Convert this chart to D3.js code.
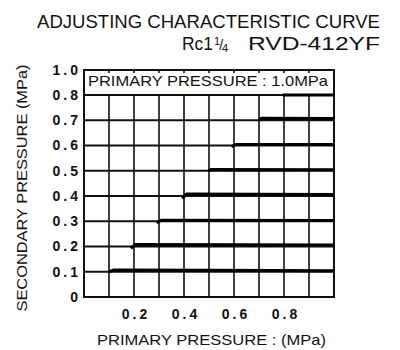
<!DOCTYPE html>
<html><head><meta charset="utf-8">
<script src="https://cdn.jsdelivr.net/npm/d3@7"></script>
<style>body{margin:0;background:#fff}svg{display:block}</style>
</head><body>
<script>
// ---- data ----
const titleLine1 = "ADJUSTING CHARACTERISTIC CURVE";
const sizeText = "Rc1";
const modelText = "RVD-412YF";
const legendText = "PRIMARY PRESSURE : 1.0MPa";
const xTitle = "PRIMARY PRESSURE : (MPa)";
const yTitle = "SECONDARY PRESSURE (MPa)";
const xTickValues = [0.2, 0.4, 0.6, 0.8];
const yTickValues = [0, 0.1, 0.2, 0.3, 0.4, 0.5, 0.6, 0.7, 0.8, 1.0];
const gridX = [0.1, 0.2, 0.3, 0.4, 0.5, 0.6, 0.7, 0.8, 0.9];
const gridY = [0.1, 0.2, 0.3, 0.4, 0.5, 0.6, 0.7, 0.8];
// curves: [primary, secondary]
const curve01 = [[0.10, 0.100], [0.12, 0.107], [0.50, 0.106], [1.0, 0.104]];
const curve02 = [[0.187, 0.193], [0.207, 0.208], [1.0, 0.206]];
const curve03 = [[0.29, 0.295], [0.31, 0.304], [1.0, 0.303]];
const curve04 = [[0.393, 0.39], [0.41, 0.408], [1.0, 0.406]];
const curve05 = [[0.497, 0.50], [0.51, 0.505], [1.0, 0.504]];
const curve06 = [[0.59, 0.595], [0.605, 0.604], [1.0, 0.604]];
const curve07 = [[0.70, 0.70], [0.71, 0.708], [1.0, 0.707]];
const curve08 = [[0.795, 0.80], [1.0, 0.80]];
const curves = [curve01, curve02, curve03, curve04, curve05, curve06, curve07, curve08];

// ---- layout ----
const W = 400, H = 350;
const L = 84, R = 334, T = 70, B = 297;
const svg = d3.select("body").append("svg").attr("width", W).attr("height", H);
const x = d3.scaleLinear().domain([0, 1.0]).range([L, R]);
const y = d3.scaleLinear().domain([0, 0.8, 1.0]).range([B, 95, T]);
const ink = "#111";
const ff = "Liberation Sans, Arial, sans-serif";

// grid
svg.append("g").selectAll("line").data(gridX).join("line")
  .attr("x1", d => x(d)).attr("x2", d => x(d)).attr("y1", B).attr("y2", T)
  .attr("stroke", ink).attr("stroke-width", 1.6);
svg.append("g").selectAll("line").data(gridY).join("line")
  .attr("x1", L).attr("x2", R).attr("y1", d => y(d)).attr("y2", d => y(d))
  .attr("stroke", ink).attr("stroke-width", 2);

// legend box (white)
svg.append("rect").attr("x", L + 1).attr("y", T + 3).attr("width", R - L - 2).attr("height", y(0.8) - T - 4)
  .attr("fill", "#fff");
svg.append("text").attr("x", 88).attr("y", 86).text(legendText)
  .attr("font-family", ff).attr("font-size", 14.5)
  .attr("textLength", 240).attr("lengthAdjust", "spacingAndGlyphs").attr("fill", ink);

// curves
const line = d3.line().x(d => x(d[0])).y(d => y(d[1]));
svg.append("g").selectAll("path").data(curves).join("path")
  .attr("d", line).attr("fill", "none").attr("stroke", "#000").attr("stroke-width", 3)
  .attr("stroke-linejoin", "round");

// frame
svg.append("rect").attr("x", L).attr("y", T).attr("width", R - L).attr("height", B - T)
  .attr("fill", "none").attr("stroke", ink).attr("stroke-width", 2);

// axes
const yAxis = d3.axisLeft(y).tickValues(yTickValues).tickSize(0).tickPadding(3)
  .tickFormat(d => d === 0 ? "0" : d3.format(".1f")(d));
const gy = svg.append("g").attr("transform", `translate(${L},0)`).call(yAxis);
gy.select(".domain").remove();
gy.selectAll("text").attr("font-family", ff)
  .attr("font-weight", "bold").attr("font-size", 14).attr("fill", ink)
  .attr("letter-spacing", 3);

const xAxis = d3.axisBottom(x).tickValues(xTickValues).tickSize(0).tickPadding(12)
  .tickFormat(d3.format(".1f"));
const gx = svg.append("g").attr("transform", `translate(0,${B})`).call(xAxis);
gx.select(".domain").remove();
gx.selectAll("text").attr("font-family", ff)
  .attr("font-weight", "bold").attr("font-size", 14).attr("fill", ink)
  .attr("letter-spacing", 3).attr("dx", 1.5);

// titles
svg.append("text").attr("x", 37).attr("y", 28).text(titleLine1)
  .attr("font-family", ff).attr("font-size", 18).attr("fill", ink)
  .attr("textLength", 343).attr("lengthAdjust", "spacingAndGlyphs");
svg.append("text").attr("x", 182).attr("y", 50).text(sizeText)
  .attr("font-family", ff).attr("font-size", 18).attr("fill", ink)
  .attr("textLength", 31).attr("lengthAdjust", "spacingAndGlyphs");
// fraction 1/4 drawn as one text with shifted tspans
const frac = svg.append("text").attr("x", 214).attr("y", 45)
  .attr("font-family", ff).attr("font-size", 11).attr("fill", ink);
frac.append("tspan").text("1");
frac.append("tspan").text("/").attr("font-size", 14).attr("dx", -1).attr("dy", 5);
frac.append("tspan").text("4").attr("dx", -1).attr("dy", 2);
svg.append("text").attr("x", 248).attr("y", 50).text(modelText)
  .attr("font-family", ff).attr("font-size", 18).attr("fill", ink)
  .attr("textLength", 132).attr("lengthAdjust", "spacingAndGlyphs");

svg.append("text").attr("x", 97).attr("y", 345).text(xTitle)
  .attr("font-family", ff).attr("font-size", 15).attr("fill", ink)
  .attr("textLength", 229).attr("lengthAdjust", "spacingAndGlyphs");
svg.append("text").attr("transform", "translate(27,188) rotate(-90)")
  .attr("text-anchor", "middle").text(yTitle)
  .attr("font-family", ff).attr("font-size", 14.5).attr("fill", ink)
  .attr("textLength", 247).attr("lengthAdjust", "spacingAndGlyphs");
</script>
</body></html>
